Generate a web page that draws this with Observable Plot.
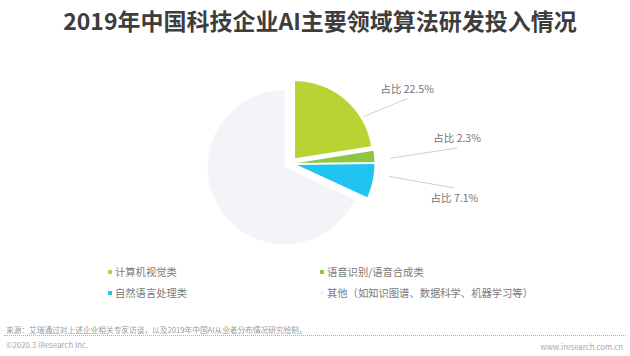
<!DOCTYPE html>
<html>
<head>
<meta charset="utf-8">
<script src="https://cdn.jsdelivr.net/npm/d3@7"></script>
<script src="https://cdn.jsdelivr.net/npm/@observablehq/plot@0.6"></script>
<style>
  html, body { margin: 0; padding: 0; background: #fff; }
  body { font-family: "Noto Sans CJK SC", "Noto Sans", sans-serif; }
  #wrap { position: relative; width: 630px; height: 356px; overflow: hidden; background: #fff; }
  #title { position: absolute; left: 0; top: 5px; width: 640px; text-align: center; font-size: 23px; font-weight: 700; color: #3d3d3d; line-height: 30px; white-space: nowrap; }
  #chart { position: absolute; left: 0; top: 45px; }
  .leg { position: absolute; font-size: 10.3px; color: #7a7a7a; line-height: 14px; white-space: nowrap; }
  .leg i { display: inline-block; width: 4px; height: 4px; margin-right: 3px; vertical-align: 2px; }
  #source { position: absolute; left: 6px; top: 324px; font-size: 7.7px; color: #9a9a9a; line-height: 11px; white-space: nowrap; }
  #rule { position: absolute; left: 4px; top: 335px; width: 622px; border-top: 1px dotted #b0b0b0; }
  #copy { position: absolute; left: 6px; top: 339px; font-size: 7.8px; color: #a8a8a8; line-height: 11px; }
  #www { position: absolute; right: 7px; top: 341px; font-size: 7.8px; color: #a8a8a8; line-height: 11px; }
</style>
</head>
<body>
<div id="wrap">
  <div id="title">2019年中国科技企业AI主要领域算法研发投入情况</div>
  <div id="chart"></div>
  <div id="legend"></div>
  <div id="source">来源：艾瑞通过对上述企业相关专家访谈，以及2019年中国AI从业者分布情况研究绘制。</div>
  <div id="rule"></div>
  <div id="copy">©2020.3 iResearch Inc.</div>
  <div id="www">www.iresearch.com.cn</div>
</div>
<script>
// ---- data ----
const categories = ["计算机视觉类", "语音识别/语音合成类", "自然语言处理类", "其他（如知识图谱、数据科学、机器学习等）"];
const shares = [22.5, 2.3, 7.1, 68.1];
const labelTexts = ["占比 22.5%", "占比 2.3%", "占比 7.1%", null];
const colors = ["#b7d432", "#8ec641", "#1fc4f0", "#f3f4f7"];

// ---- layout ----
const W = 630, H = 210, R = 77, CX = 290, CY = 118;
const explode = 0.09;

const data = categories.map((c, i) => ({category: c, value: shares[i], label: labelTexts[i], color: colors[i]}));
const arcs = d3.pie().sort(null).value(d => d.value)(data);

function slicePoints(a) {
  const mid = (a.startAngle + a.endAngle) / 2;
  const ox = explode * Math.sin(mid), oy = explode * Math.cos(mid);
  const pts = [{x: ox, y: oy}];
  const n = Math.max(2, Math.ceil((a.endAngle - a.startAngle) / (Math.PI / 360)));
  for (let k = 0; k <= n; k++) {
    const t = a.startAngle + (a.endAngle - a.startAngle) * k / n;
    pts.push({x: ox + Math.sin(t), y: oy + Math.cos(t)});
  }
  pts.push({x: ox, y: oy});
  return pts;
}

// leader lines: derived from each slice's mid-angle
const labelData = arcs.filter(a => a.data.label).map(a => {
  const mid = (a.startAngle + a.endAngle) / 2;
  const s = Math.sin(mid), c = Math.cos(mid);
  return {
    label: a.data.label,
    x1: 0.3 + 1.0 * s, y1: 0.8 * c,
    x2: 0.3 + 1.87 * s, y2: 0.95 * c + 0.12 * Math.sign(c)
  };
});

const sliceMarks = arcs.map(a => Plot.line(slicePoints(a), {x: "x", y: "y", fill: a.data.color, stroke: "none", curve: "linear"}));

const chart = Plot.plot({
  width: W,
  height: H,
  margin: 0,
  x: {domain: [-CX / R, (W - CX) / R], axis: null},
  y: {domain: [-(H - CY) / R, CY / R], axis: null},
  style: {fontFamily: '"Noto Sans CJK SC", "Noto Sans", sans-serif', background: "transparent"},
  marks: [
    ...sliceMarks,
    Plot.link(labelData, {x1: "x1", y1: "y1", x2: "x2", y2: "y2", stroke: "#c4c4c4", strokeWidth: 0.8}),
    Plot.text(labelData.filter(d => d.y2 >= 0), {x: "x2", y: "y2", text: "label", dy: -9, fontSize: 10.5, fill: "#747474", textAnchor: "middle"}),
    Plot.text(labelData.filter(d => d.y2 < 0), {x: "x2", y: "y2", text: "label", dy: 11, fontSize: 10.5, fill: "#747474", textAnchor: "middle"})
  ]
});
document.getElementById("chart").appendChild(chart);

// ---- legend ----
const legPos = [[108, 265], [320, 265], [108, 286], [320, 286]];
const legend = document.getElementById("legend");
data.forEach((d, i) => {
  const el = document.createElement("div");
  el.className = "leg";
  el.style.left = legPos[i][0] + "px";
  el.style.top = legPos[i][1] + "px";
  const sw = document.createElement("i");
  sw.style.background = d.color;
  el.appendChild(sw);
  el.appendChild(document.createTextNode(d.category));
  legend.appendChild(el);
});
</script>
</body>
</html>
